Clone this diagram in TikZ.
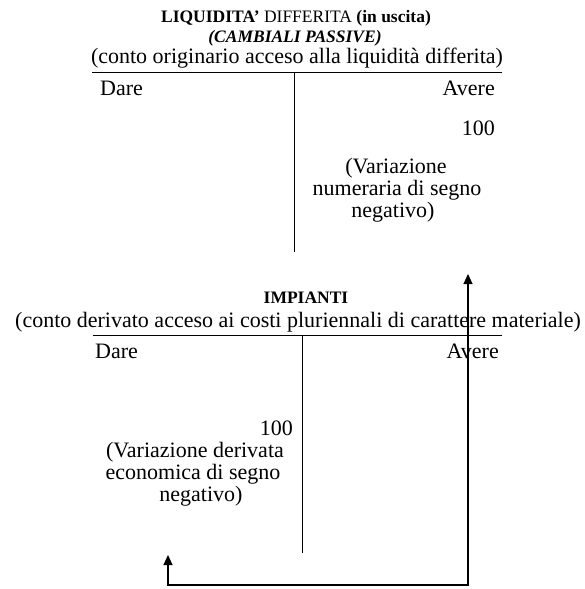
\documentclass[tikz,border=0pt]{standalone}
\usepackage{fontspec}
\setmainfont{Liberation Serif}
\usetikzlibrary{arrows.meta}
\begin{document}
\begin{tikzpicture}[x=1pt,y=-1pt,
  txt/.style={inner sep=0pt,font=\fontsize{22}{24}\selectfont},
  ttl/.style={inner sep=0pt,font=\fontsize{17.5}{19}\selectfont},
  rule/.style={line width=1pt},
  conn/.style={line width=1.1pt,{Triangle[length=10pt,width=9pt]}-{Triangle[length=10pt,width=9pt]}}]
\useasboundingbox (0,0) rectangle (585,589);
% ---- top account
\node[ttl,anchor=base] (t1) at (296,23) {\textbf{LIQUIDITA’} DIFFERITA \textbf{(in uscita)}};
\node[ttl,anchor=base] (t2) at (295,42) {\textbf{\textit{(CAMBIALI PASSIVE)}}};
\node[txt,anchor=base] (t3) at (297,63) {(conto originario acceso alla liquidità differita)};
\coordinate (hl1) at (92,72);
\coordinate (hr1) at (502,72);
\coordinate (vt1) at (294,72);
\coordinate (vb1) at (294,252);
\draw[rule] (hl1) -- (hr1);
\draw[rule] (vt1) -- (vb1);
\node[txt,anchor=base west] (dare1) at (100,95) {Dare};
\node[txt,anchor=base east] (avere1) at (495,95) {Avere};
\node[txt,anchor=base east] (v1) at (495,135) {100};
\node[txt,anchor=base] (d1a) at (396,173) {(Variazione};
\node[txt,anchor=base] (d1b) at (397,195) {numeraria di segno};
\node[txt,anchor=base] (d1c) at (393,217) {negativo)};
% ---- bottom account
\node[ttl,anchor=base] (b1) at (306,303) {\textbf{IMPIANTI}};
\node[txt,anchor=base] (b2) at (298,327) {(conto derivato acceso ai costi pluriennali di carattere materiale)};
\coordinate (hl2) at (93,335);
\coordinate (hr2) at (502,335);
\coordinate (vt2) at (302,335);
\coordinate (vb2) at (302,553);
\draw[rule] (hl2) -- (hr2);
\draw[rule] (vt2) -- (vb2);
\node[txt,anchor=base west] (dare2) at (95,358) {Dare};
\node[txt,anchor=base east] (avere2) at (499,358) {Avere};
\node[txt,anchor=base east] (v2) at (293,435) {100};
\node[txt,anchor=base] (d2a) at (195,457) {(Variazione derivata};
\node[txt,anchor=base] (d2b) at (193,479) {economica di segno};
\node[txt,anchor=base] (d2c) at (201,501) {negativo)};
% ---- connector
\coordinate (lt) at (168,555);
\coordinate (rb) at (468,585);
\coordinate (rt) at (468,274);
\draw[conn] (lt) |- (rb) -- (rt);
\end{tikzpicture}
\end{document}
